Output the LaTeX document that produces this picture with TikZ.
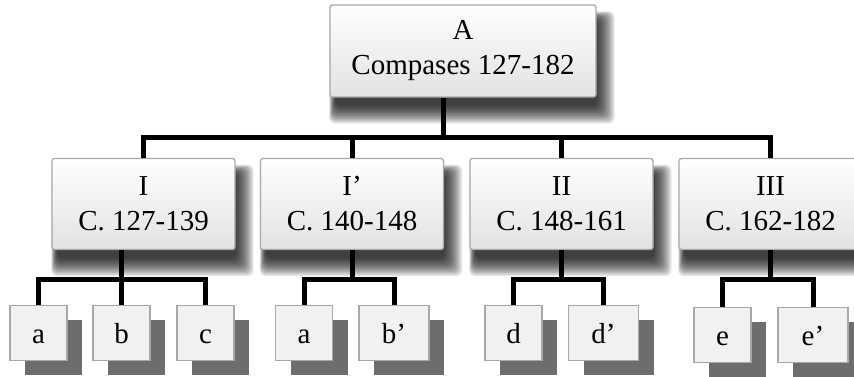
\documentclass[tikz,border=0pt]{standalone}
\usepackage{fontspec}
\setmainfont{Liberation Serif}
\usepackage{tikz}
\usetikzlibrary{shadows,backgrounds}

\definecolor{boxline}{HTML}{A9A9A9}
\definecolor{boxfill}{HTML}{E2E2E2}
\definecolor{leafline}{HTML}{A8A8A8}
\definecolor{leaffill}{HTML}{F1F1F1}
\definecolor{leafshade}{HTML}{6D6D6D}

% soft shadow under a big box, built from stacked transparent layers
\newcommand{\boxshadow}[1]{%
	\foreach \g in {0,1.5,...,18}
		\fill[black, opacity=0.1, rounded corners=6pt]
			([xshift={(6-\g/3)*1pt}, yshift={(-8-\g)*1pt}]#1.south west) rectangle
			([xshift={\g*1pt}, yshift={(\g/2-16)*1pt}]#1.north east);
}

\begin{document}
\begin{tikzpicture}[x=1pt, y=-1pt,
	bigbox/.style={draw=boxline, line width=1.3pt, rounded corners=2.5pt, top color=white, bottom color=boxfill, minimum width=183pt, minimum height=91pt, align=center, font=\fontsize{29}{35}\selectfont},
	leafbox/.style={draw=leafline, fill=leaffill, line width=1.2pt, minimum width=57pt, minimum height=55pt, text height=20pt, text depth=0pt, font=\fontsize{29}{35}\selectfont, drop shadow={shadow xshift=15pt, shadow yshift=-14pt, fill=leafshade, opacity=1}},
	wideleaf/.style={leafbox, minimum width=70pt},
	link/.style={line width=5pt}]
	
	\useasboundingbox (0,0) rectangle (854,377);
	
	% top of the form
	\node[bigbox, minimum width=266pt, minimum height=92pt] (A) at (463,51) {A\\Compases 127-182};
	
	% sections
	\node[bigbox] (I) at (143.5,204) {I\\C. 127-139};
	\node[bigbox] (Ip) at (352,204) {I’\\C. 140-148};
	\node[bigbox] (II) at (561.5,204) {II\\C. 148-161};
	\node[bigbox] (III) at (770.5,204) {III\\C. 162-182};
	
	\begin{scope}[on background layer]
		\boxshadow{A}
		\boxshadow{I}
		\boxshadow{Ip}
		\boxshadow{II}
		\boxshadow{III}
	\end{scope}
	
	% phrases
	\node[leafbox] (a1) at (38.5,333) {a};
	\node[leafbox] (b) at (121.5,333) {b};
	\node[leafbox] (c) at (205.5,333) {c};
	\node[leafbox] (a2) at (304,333) {a};
	\node[wideleaf] (bp) at (394,333) {b’};
	\node[leafbox] (d) at (513.5,333) {d};
	\node[wideleaf] (dp) at (603.5,333) {d’};
	\node[leafbox] (e) at (722.5,335) {e};
	\node[wideleaf] (ep) at (813,335) {e’};
	
	% A to sections
	\coordinate (trunk) at ([xshift=-20pt]A.south);
	\draw[link] (trunk) -- ++(0,40) coordinate (fork);
	\draw[link] (I.north) |- (fork) -| (III.north);
	\draw[link] (fork) -| (Ip.north);
	\draw[link] (fork) -| (II.north);
	
	% sections to phrases
	\draw[link] (a1.north) |- ([yshift=-29pt]I.south -| b.north) -| (c.north);
	\draw[link] (I.south -| b.north) -- (b.north);
	
	\draw[link] (a2.north) |- ([yshift=-29pt]Ip.south) -| (bp.north);
	\draw[link] (Ip.south) -- ++(0,29);
	
	\draw[link] (d.north) |- ([yshift=-29pt]II.south) -| (dp.north);
	\draw[link] (II.south) -- ++(0,29);
	
	\draw[link] (e.north) |- ([yshift=-29pt]III.south) -| (ep.north);
	\draw[link] (III.south) -- ++(0,29);

\end{tikzpicture}
\end{document}
